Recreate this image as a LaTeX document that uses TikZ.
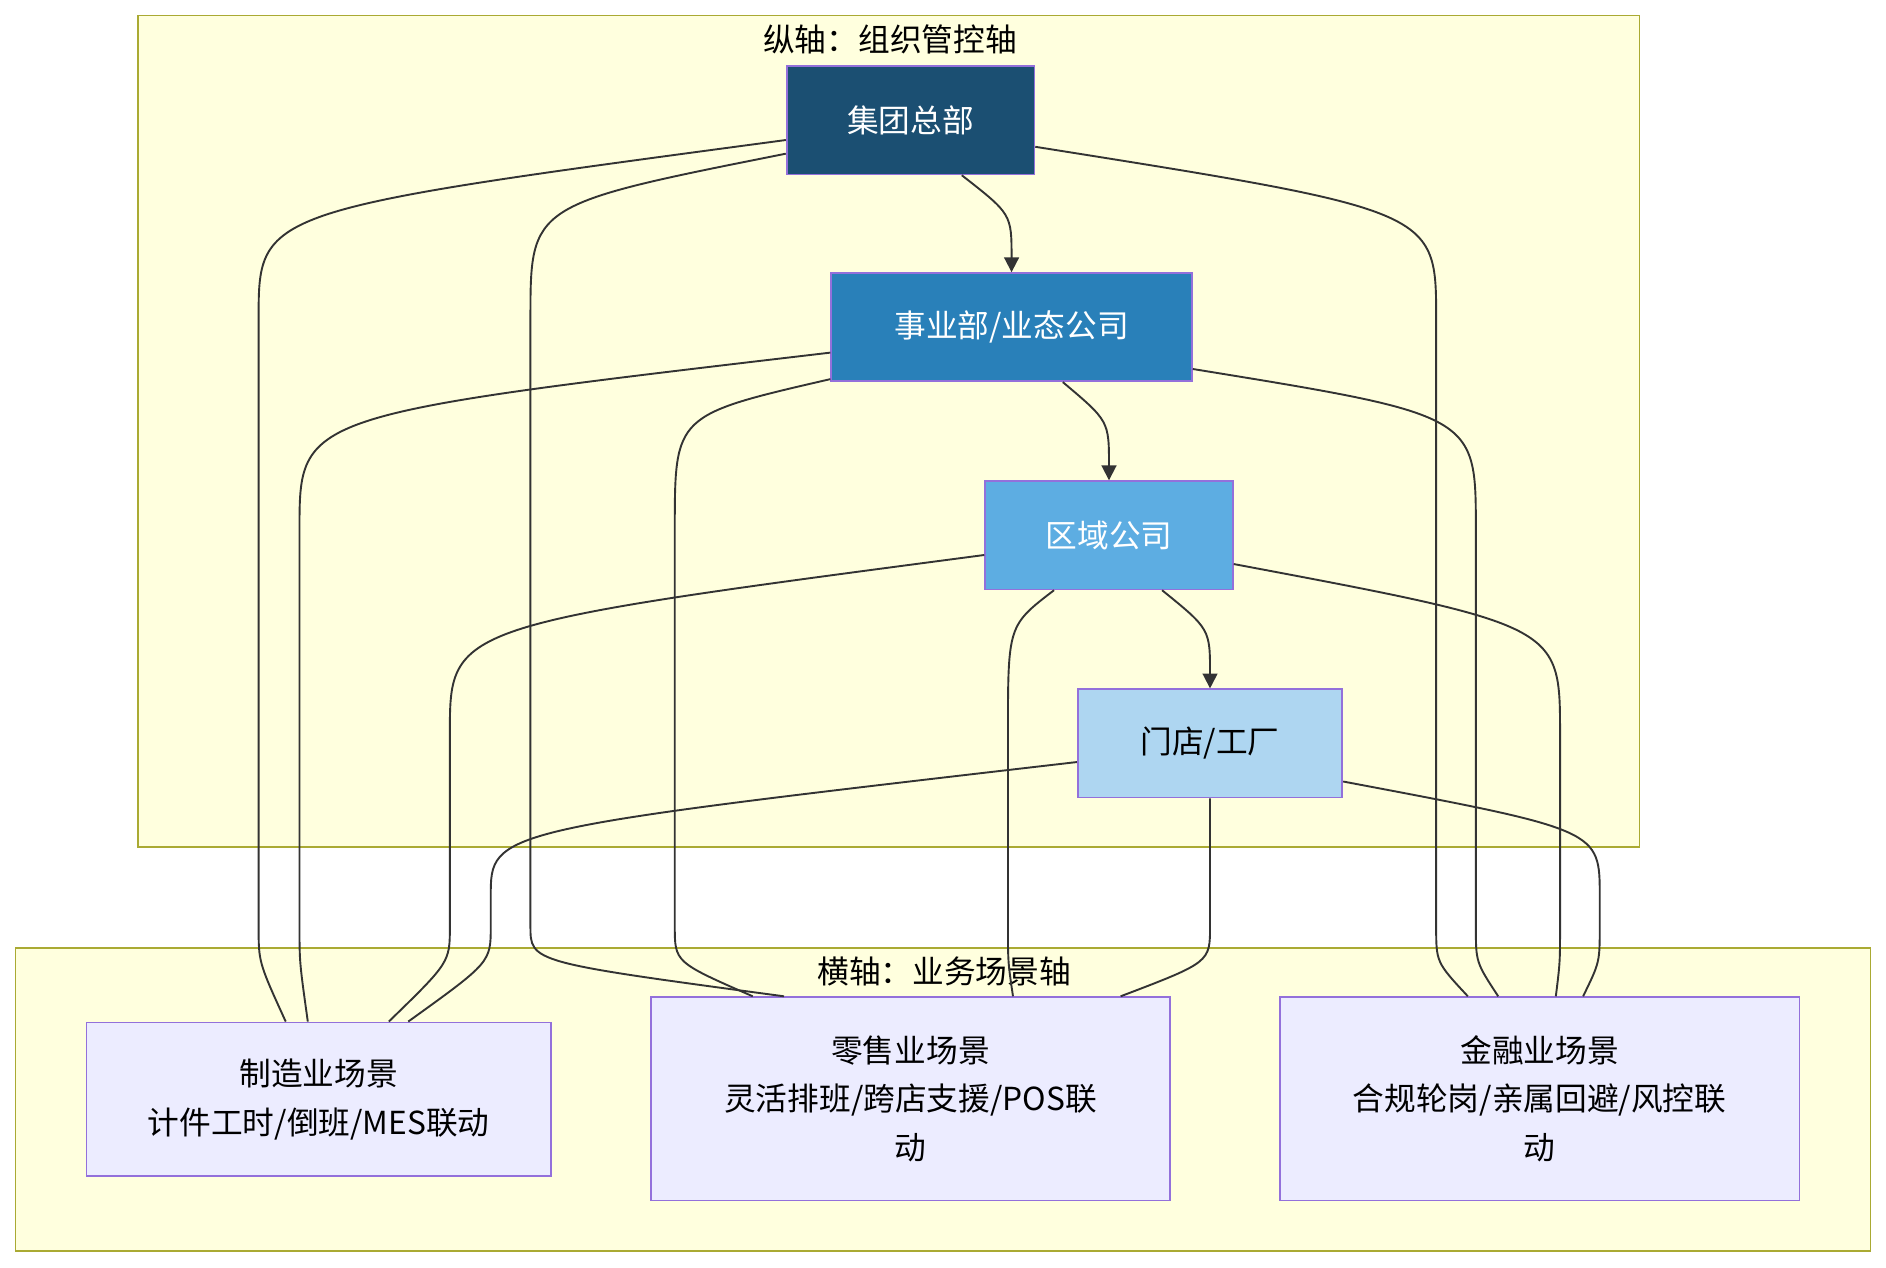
\documentclass[tikz,border=0pt]{standalone}
\usepackage{fontspec}
\setmainfont{Noto Sans CJK SC}
\usetikzlibrary{arrows.meta, positioning}
\definecolor{zoneFill}{HTML}{FFFFDE}
\definecolor{zoneLine}{HTML}{AAAA33}
\definecolor{nodeLine}{HTML}{9370DB}
\definecolor{sceneFill}{HTML}{ECECFF}
\definecolor{linkGray}{HTML}{333333}
\definecolor{hqFill}{HTML}{1B4F72}
\definecolor{buFill}{HTML}{2980B9}
\definecolor{regionFill}{HTML}{5DADE2}
\definecolor{storeFill}{HTML}{AED6F1}

\begin{document}
\begin{tikzpicture}[
    x=0.02cm, y=-0.02cm,
    zone/.style={draw=zoneLine, fill=zoneFill, line width=0.8pt},
    org/.style={draw=nodeLine, line width=0.8pt, minimum height=1.8cm, text=white, font=\fontsize{15}{18}\selectfont},
    scene/.style={draw=nodeLine, fill=sceneFill, line width=0.8pt, align=center, font=\fontsize{15}{23}\selectfont},
    link/.style={draw=linkGray, line width=0.9pt},
    arrow/.style={link, -{Triangle[length=7pt,width=7pt]}}
]
\useasboundingbox (0,0) rectangle (1568,1054);

% zones
\draw[zone] (115,13) rectangle (1363,704);
\node[font=\fontsize{15}{18}\selectfont] (vtitle) at (740,33) {纵轴：组织管控轴};
\draw[zone] (13,788) rectangle (1555,1040);
\node[font=\fontsize{15}{18}\selectfont] (htitle) at (785,808) {横轴：业务场景轴};

% org axis
\node[org, fill=hqFill, minimum width=4.12cm] (hq) at (757,100) {集团总部};
\node[org, fill=buFill, minimum width=6cm] (bu) at (841,272) {事业部/业态公司};
\node[org, fill=regionFill, minimum width=4.12cm] (region) at (922,445) {区域公司};
\node[org, fill=storeFill, text=black, minimum width=4.4cm] (store) at (1006,618) {门店/工厂};

% scene axis
\node[scene, minimum width=7.72cm, minimum height=2.56cm] (mfg) at (265,914) {制造业场景\\计件工时/倒班/MES联动};
\node[scene, minimum width=8.64cm, minimum height=3.38cm] (retail) at (757,913.5) {零售业场景\\灵活排班/跨店支援/POS联\\动};
\node[scene, minimum width=8.64cm, minimum height=3.38cm] (fin) at (1280,913.5) {金融业场景\\合规轮岗/亲属回避/风控联\\动};

% hierarchy
\draw[arrow] (bu.313.7) .. controls (922,350) .. (region.north);
\draw[arrow] (hq.313.7) .. controls (841,178) .. (bu.north);
\draw[arrow] (region.314.4) .. controls (1006,523) .. (store.north);

% cross links
\foreach \from/\ang/\x/\cy/\ky/\to/\toang in {
    hq/189/215/175/265/mfg/113, hq/195/441/170/265/retail/141,
    hq/348.5/1194/175/265/fin/125,
    bu/188.7/249/345/440/mfg/98, bu/196/561/345/440/retail/147,
    bu/347/1227/345/440/fin/112.5,
    region/189.4/374/520/610/mfg/48, region/225.6/838/520/610/retail/45.5,
    region/347/1297/520/610/fin/81,
    store/188.3/408/690/745/mfg/41, store/344.7/1330/690/745/fin/67.5}
    \draw[link] (\from.\ang) .. controls (\x,\cy) .. (\x,\ky) -- (\x,770) .. controls (\x,800) .. (\to.\toang);
\draw[link] (store.south) -- (1006,770) .. controls (1006,800) .. (retail.26.7);

\end{tikzpicture}
\end{document}
